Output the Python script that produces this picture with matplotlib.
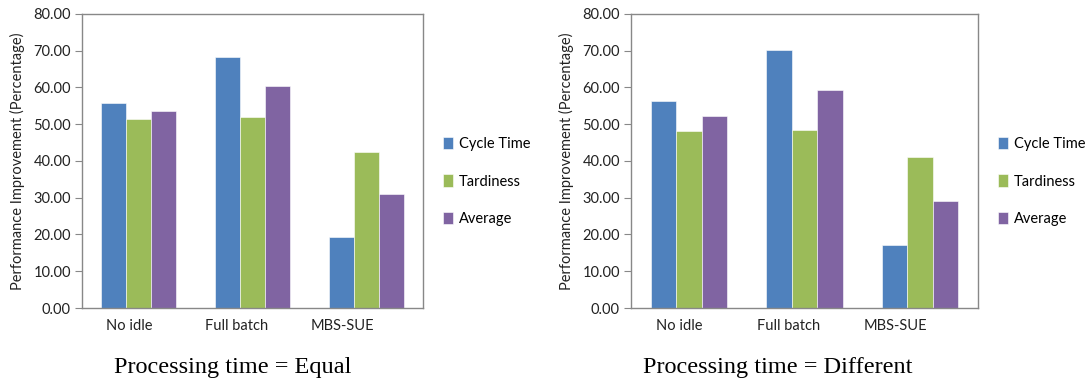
import numpy as np
import matplotlib.pyplot as plt

categories = ['No idle', 'Full batch', 'MBS-SUE']
series = ['Cycle Time', 'Tardiness', 'Average']

# Processing time = Equal
equal_cycle = [55.7, 68.2, 19.3]
equal_tard = [51.4, 51.9, 42.3]
equal_avg = [53.5, 60.4, 31.0]

# Processing time = Different
diff_cycle = [56.2, 70.3, 17.2]
diff_tard = [48.1, 48.3, 41.0]
diff_avg = [52.2, 59.3, 29.0]

titles = ['Processing time = Equal', 'Processing time = Different']
colors = ['#4F81BD', '#9BBB59', '#8064A2']

plt.rcParams['font.family'] = ['Lato', 'DejaVu Sans']

fig = plt.figure(figsize=(10.86, 3.81), dpi=100)

panels = [
    ([0.0755, 0.1916, 0.314, 0.772], [equal_cycle, equal_tard, equal_avg], 0.214),
    ([0.581, 0.1916, 0.3195, 0.772], [diff_cycle, diff_tard, diff_avg], 0.716),
]

x = np.arange(len(categories))
w = 0.22
# excel puts the category labels a little left of the group centres
label_shift = np.array([0.08, 0.14, 0.21])

for i, (pos, data, tx) in enumerate(panels):
    ax = fig.add_axes(pos)
    for j, vals in enumerate(data):
        ax.bar(x + (j - 1) * w, vals, w, color=colors[j], label=series[j],
               edgecolor='white', linewidth=0.4)
    ax.set_xlim(-0.5, 2.5)
    ax.set_ylim(0, 80)
    ax.set_yticks(np.arange(0, 81, 10))
    ax.set_yticklabels(['%.2f' % v for v in np.arange(0, 81, 10)], fontsize=10.5, color='#222222')
    ax.set_xticks(x - label_shift)
    ax.set_xticklabels(categories, fontsize=10.5, color='#222222')
    ax.tick_params(axis='x', length=0, pad=8)
    ax.tick_params(axis='y', length=5, color='#888888', pad=3)
    for s in ax.spines.values():
        s.set_color('#888888')
        s.set_linewidth(1.0)
    ax.set_ylabel('Performance Improvement (Percentage)', fontsize=10.5, color='#222222', labelpad=6)
    ax.legend(loc='center left', bbox_to_anchor=(1.02, 0.43), frameon=False, fontsize=10.5,
              handlelength=0.7, handleheight=0.9, handletextpad=0.4, labelspacing=1.6)
    fig.text(tx, 0.036, titles[i], fontsize=17.5, family='Liberation Serif', ha='center', va='center')

fig.savefig('out.png', dpi=100)
